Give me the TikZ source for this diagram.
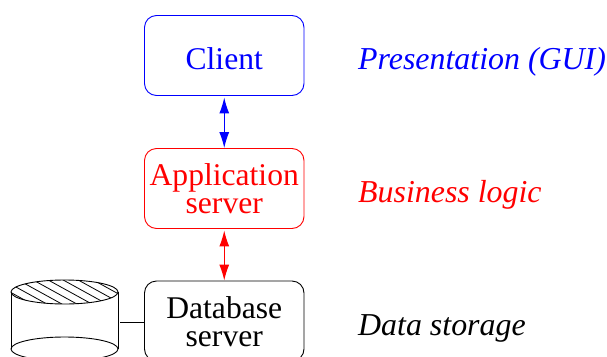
\documentclass[tikz,border=0pt]{standalone}
\usepackage{fontspec}
\setmainfont{Liberation Serif}
\usetikzlibrary{arrows.meta}
\tikzset{
  box/.style={draw=#1,text=#1,rounded corners=12pt,minimum width=159.5pt,minimum height=80pt,inner sep=0pt,align=center,line width=0.9pt,font=\fontsize{31.6}{28}\selectfont},
  tag/.style={text=#1,anchor=base west,inner sep=0pt,font=\fontsize{31.9}{32}\selectfont\itshape},
  link/.style={draw=#1,line width=1.1pt,{Latex[length=16pt,width=10pt]}-{Latex[length=16pt,width=10pt]},shorten <=1.5pt},
  cyl/.style={line width=0.9pt,draw=black}
}
\newcommand{\lineup}{\rule{0pt}{23pt}}
\begin{document}
\begin{tikzpicture}[x=1pt,y=-1pt]
\useasboundingbox (0,0) rectangle (607,356);
\clip (0,0) rectangle (607,356);
\node[box=blue,text height=27pt,text depth=0pt] (client) at (224.25,55.5) {Client};
\node[box=red] (app) at (224.25,188.5) {\lineup Application\\server};
\node[box=black] (db) at (224.25,321) {\lineup Database\\server};
\node[tag=blue] (t1) at (358,69) {Presentation (GUI)};
\node[tag=red] (t2) at (358,202) {Business logic};
\node[tag=black] (t3) at (358,335) {Data storage};
\draw[link=blue] (client.south) -- (app.north);
\draw[link=red] (app.south) -- (db.north);
% cylinder
\begin{scope}
\clip (64.5,292) ellipse [x radius=53.5,y radius=12];
\foreach \d in {-60,-45,...,120}
  \draw[line width=0.8pt] (\d,270) -- (\d+100,325);
\end{scope}
\draw[cyl] (64.5,292) ellipse [x radius=53.5,y radius=12];
\draw[cyl] (64.5,349) ellipse [x radius=53.5,y radius=12];
\draw[cyl] (11,292) -- (11,349);
\draw[cyl] (118,292) -- (118,349);
\coordinate (cylport) at (120,322);
\draw[line width=0.9pt] (cylport) -- (db.west |- cylport);
\end{tikzpicture}
\end{document}
